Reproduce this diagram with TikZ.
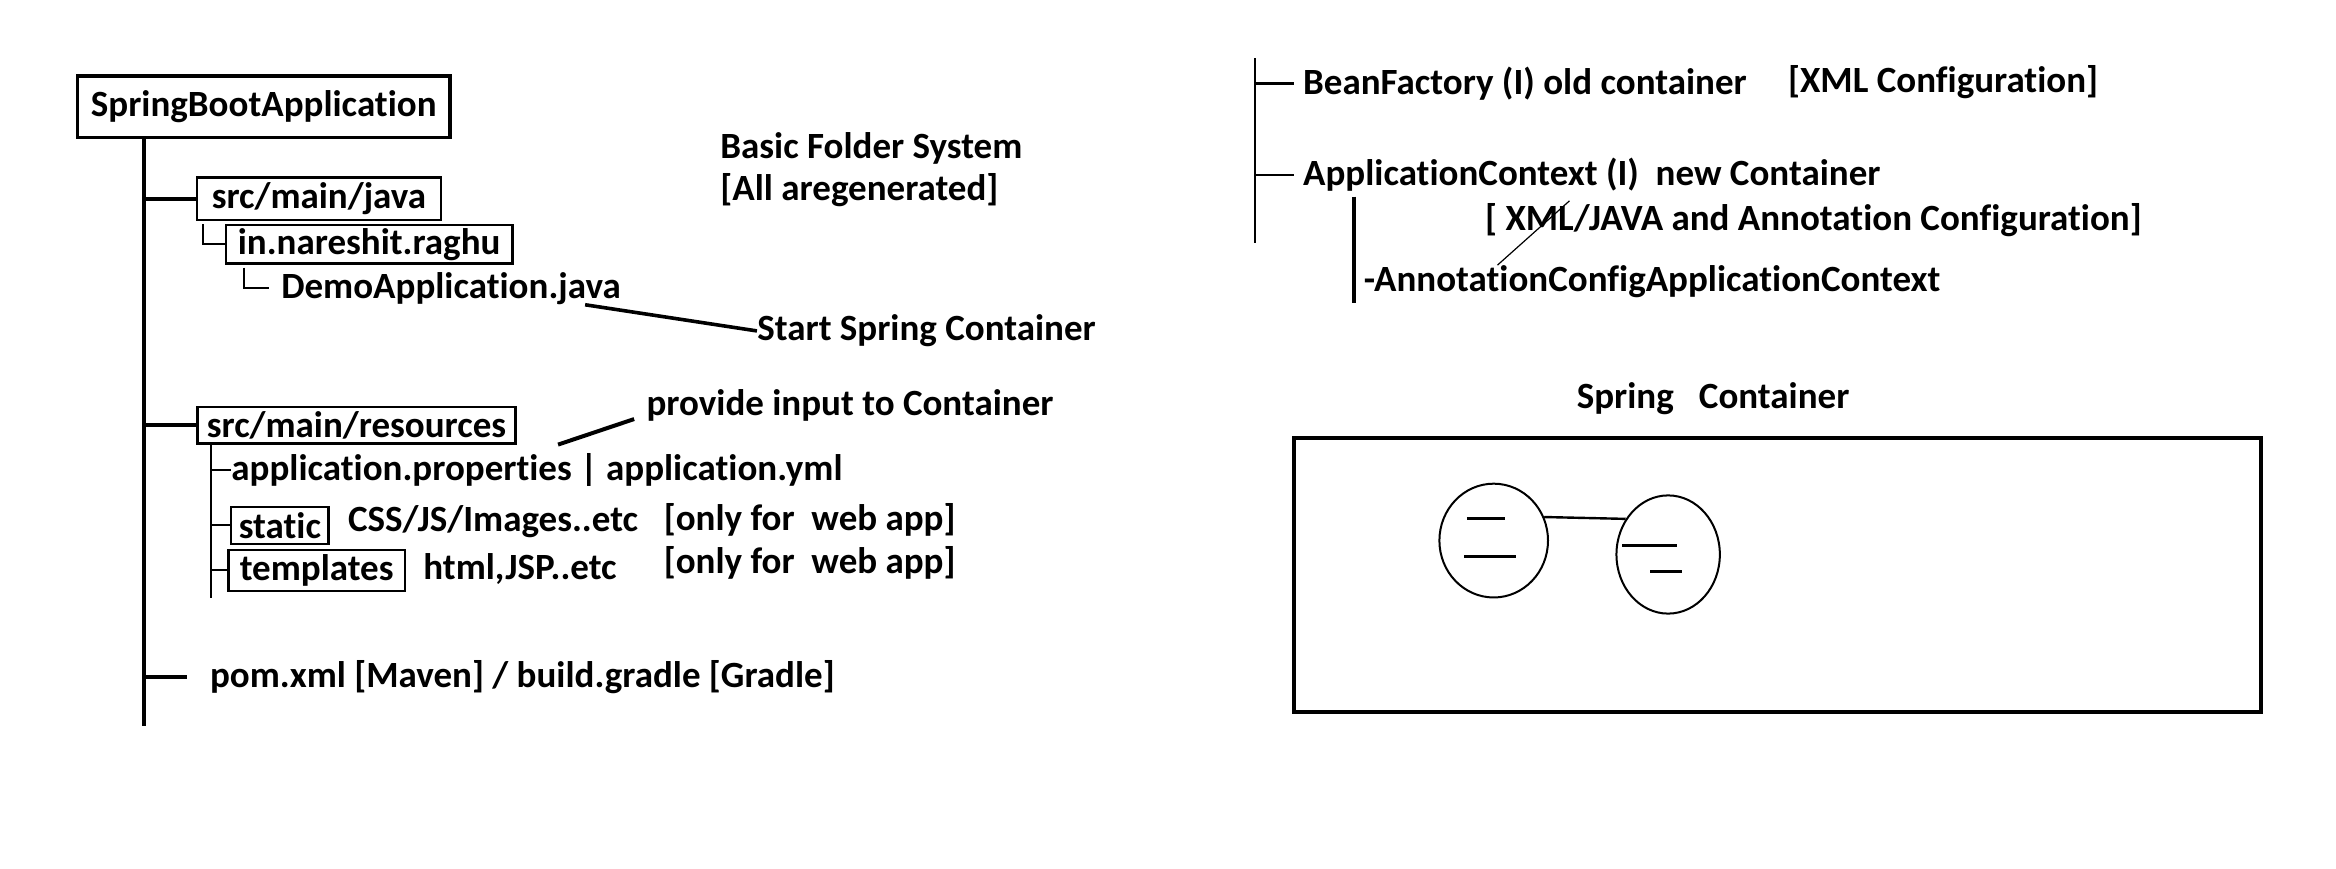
\documentclass[tikz,border=0pt]{standalone}
\usepackage{fontspec}
\setmainfont{Carlito}[Ligatures=NoCommon]
\usepackage{tikz}
\usetikzlibrary{shapes.geometric,calc}

\begin{document}
\begin{tikzpicture}[x=0.7487pt, y=-0.7487pt]
\tikzstyle{every node} = [font=\bfseries\fontsize{18.5}{21}\selectfont, inner sep=0pt]
\tikzstyle{txt} = [anchor=west]
\tikzstyle{boxnode} = [draw, line width=1.2pt]
\tikzstyle{trunkline} = [line width=2pt]
\tikzstyle{subline} = [line width=1pt]
\useasboundingbox (0,0) rectangle (1560,579.7);
% folder tree
\node[boxnode, line width=1.8pt, minimum width=186pt, minimum height=30.6pt] (root) at (176.1,71.3) {SpringBootApplication};
\node[boxnode, minimum width=121.8pt, minimum height=21.2pt] (java) at (213,132.8) {src/main/java};
\node[boxnode, minimum width=143.3pt, minimum height=19.2pt] (pkg) at (246.5,163.1) {in.nareshit.raghu};
\node[txt] (demo) at (187.6,192.5) {DemoApplication.java};
\node[txt] (start) at (505.5,221) {Start Spring Container};
\node[txt, align=left] (basic) at (480.8,113.6) {Basic Folder System\\{[All aregenerated]}};
\node[boxnode, minimum width=158.9pt, minimum height=18.3pt] (res) at (238.1,283.9) {src/main/resources};
\node[txt] (input) at (431.5,270.5) {provide input to Container};
\node[txt] (props) at (154.3,313.9) {application.properties | application.yml};
\node[boxnode, minimum width=48.8pt, minimum height=18.6pt] (static) at (186.9,350.9) {static};
\node[txt] (css) at (232.2,348.4) {CSS/JS/Images..etc};
\node[txt] (web1) at (443,347) {[only for~ web app]};
\node[boxnode, minimum width=88.3pt, minimum height=20.4pt] (templates) at (211.5,380.9) {templates};
\node[txt] (html) at (282.5,380) {html,JSP..etc};
\node[txt] (web2) at (443,376.2) {[only for~ web app]};
\node[txt] (pom) at (140,452) {pom.xml [Maven] / build.gradle [Gradle]};
\coordinate (trunkend) at (96,485);
\coordinate (resend) at (141,399.6);
\draw[trunkline] (root.south -| trunkend) -- (trunkend);
\foreach \n in {java, res}
\draw[trunkline] (\n.west -| trunkend) -- (\n.west);
\draw[trunkline] (pom.west -| trunkend) -- ++(29,0);
\draw[subline] (java.south west) ++(5,2) |- (pkg.west);
\draw[subline] (pkg.south west) ++(13,2) |- ([xshift=-6pt]demo.west);
\draw[line width=1.8pt] ([xshift=-18pt]demo.south east) -- (start.west);
\draw[line width=2pt] ([xshift=20.7pt]res.south east) -- ([xshift=-6pt,yshift=-7pt]input.west);
\draw[subline, line width=1.3pt] (res.south -| resend) -- (resend);
\foreach \n in {props, static, templates}
\draw[subline] (\n.west -| resend) -- (\n.west);
% containers
\node[txt] (bean) at (870,55.6) {BeanFactory (I) old container};
\node[txt] (xmlcfg) at (1193.8,54.7) {[XML Configuration]};
\node[txt] (ctx) at (870,116.9) {ApplicationContext (I)~ new Container};
\node[txt] (anncfg) at (991.5,146.9) {[ XML/JAVA and Annotation Configuration]};
\node[txt] (acac) at (910.6,188.1) {-AnnotationConfigApplicationContext};
\coordinate (rtop) at (838,39);
\coordinate (rbot) at (838,162.5);
\coordinate (ctop) at (904.2,131.3);
\coordinate (cbot) at (904.2,202.6);
\draw[line width=1.3pt] (rtop) -- (rbot);
\foreach \n in {bean, ctx}
\draw[line width=1.3pt] (\n.west -| rtop) -- ([xshift=-4.5pt]\n.west);
\draw[trunkline] (ctop) -- (cbot);
\draw[line width=0.6pt] ($(acac.north west)+(89.4,0)$) -- ($(anncfg.north west)+(56.6,-1.4)$);
% spring container
\node (title) at (1144,266) {Spring~~ Container};
\draw[line width=1.8pt] (864,292.5) rectangle (1510,475.5);
\node[draw, ellipse, line width=1pt, minimum width=54.3pt, minimum height=56.9pt] (obj1) at (997.5,361) {};
\node[draw, ellipse, line width=1pt, minimum width=51.7pt, minimum height=59.1pt] (obj2) at (1114,370.3) {};
\draw[line width=1.2pt] (obj1.25) -- (obj2.140);
\foreach \a/\b/\y in {979.6/1005/346, 977.8/1012.5/371.5, 1083.5/1119.7/364.2, 1102/1123/381.5}
\draw[line width=1.5pt] (\a,\y) -- (\b,\y);
\end{tikzpicture}
\end{document}
